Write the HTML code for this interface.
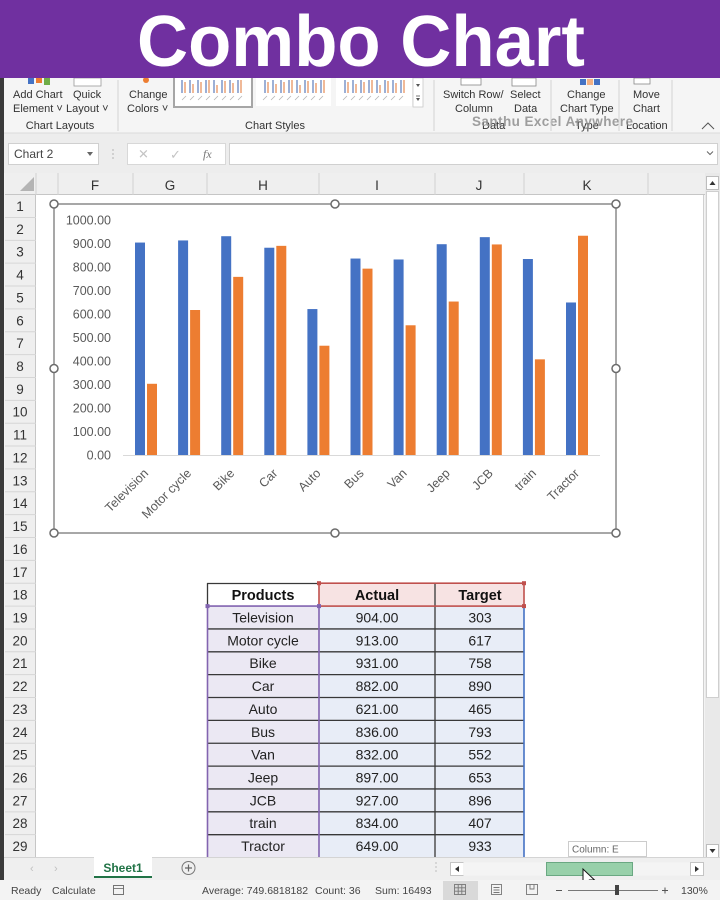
<!DOCTYPE html>
<html>
<head>
<meta charset="utf-8">
<style>
  html,body{margin:0;padding:0;background:#f3f3f3;}
  body{width:720px;height:900px;overflow:hidden;}
  svg{display:block;font-family:"Liberation Sans",Arial,sans-serif;}
</style>
</head>
<body>
<svg width="720" height="900" viewBox="0 0 720 900" xmlns="http://www.w3.org/2000/svg">
  <!-- base -->
  <rect x="0" y="0" width="720" height="900" fill="#f3f3f3"/>

  <!-- ribbon -->
  <rect x="0" y="78" width="720" height="55" fill="#f5f5f5"/>
  <!-- ribbon icons (partially hidden) -->
  <rect x="28" y="78" width="6" height="6" fill="#4472c4"/>
  <rect x="36" y="78" width="6" height="5" fill="#ed7d31"/>
  <rect x="44" y="78" width="6" height="7" fill="#70ad47"/>
  <rect x="74" y="78" width="27" height="8" fill="#fff" stroke="#999" stroke-width="0.8"/>
  <circle cx="146" cy="80" r="3" fill="#ed7d31"/>
  <rect x="461" y="78" width="20" height="7" fill="#fff" stroke="#888" stroke-width="0.8"/>
  <rect x="512" y="78" width="24" height="8" fill="#fff" stroke="#888" stroke-width="0.8"/>
  <rect x="580" y="79" width="6" height="6" fill="#4472c4"/>
  <rect x="587" y="79" width="6" height="6" fill="#f4b183"/>
  <rect x="594" y="79" width="6" height="6" fill="#4472c4"/>
  <rect x="634" y="78" width="16" height="6" fill="#fff" stroke="#888" stroke-width="0.8"/>

  <g font-size="11" fill="#333">
    <text x="13" y="98">Add Chart</text>
    <text x="13" y="112">Element ˅</text>
    <text x="73" y="98">Quick</text>
    <text x="66" y="112">Layout ˅</text>
    <text x="60" y="129" text-anchor="middle">Chart Layouts</text>
    <text x="129" y="98">Change</text>
    <text x="127" y="112">Colors ˅</text>
    <text x="275" y="129" text-anchor="middle">Chart Styles</text>
    <text x="443" y="98">Switch Row/</text>
    <text x="455" y="112">Column</text>
    <text x="510" y="98">Select</text>
    <text x="514" y="112">Data</text>
    <text x="482" y="129">Data</text>
    <text x="567" y="98">Change</text>
    <text x="560" y="112">Chart Type</text>
    <text x="575" y="129">Type</text>
    <text x="633" y="98">Move</text>
    <text x="633" y="112">Chart</text>
    <text x="626" y="129">Location</text>
  </g>
  <text x="472" y="126" font-size="13.5" font-weight="bold" fill="#8f8f8f" opacity="0.85" textLength="161">Santhu Excel Anywhere</text>
  <path d="M702 129 L708 123 L714 129" fill="none" stroke="#555" stroke-width="1"/>
  <!-- ribbon separators -->
  <g stroke="#d4d4d4" stroke-width="1">
    <line x1="118" y1="80" x2="118" y2="131"/>
    <line x1="434" y1="80" x2="434" y2="131"/>
    <line x1="551" y1="80" x2="551" y2="131"/>
    <line x1="619" y1="80" x2="619" y2="131"/>
    <line x1="672" y1="80" x2="672" y2="131"/>
  </g>
  <!-- chart style thumbnails -->
  <rect x="174" y="77" width="78" height="30" fill="#fff" stroke="#a6a6a6" stroke-width="2"/>
  <rect x="256" y="78" width="75" height="28" fill="#fff"/>
  <rect x="336" y="78" width="76" height="28" fill="#fff"/>
  <g stroke-width="2">
    <g stroke="#9db0d6">
      <line x1="182" y1="80" x2="182" y2="93"/><line x1="190" y1="80" x2="190" y2="93"/><line x1="198" y1="80" x2="198" y2="93"/><line x1="206" y1="80" x2="206" y2="93"/><line x1="214" y1="80" x2="214" y2="93"/><line x1="222" y1="80" x2="222" y2="93"/><line x1="230" y1="80" x2="230" y2="93"/><line x1="238" y1="80" x2="238" y2="93"/>
      <line x1="265" y1="80" x2="265" y2="93"/><line x1="273" y1="80" x2="273" y2="93"/><line x1="281" y1="80" x2="281" y2="93"/><line x1="289" y1="80" x2="289" y2="93"/><line x1="297" y1="80" x2="297" y2="93"/><line x1="305" y1="80" x2="305" y2="93"/><line x1="313" y1="80" x2="313" y2="93"/><line x1="321" y1="80" x2="321" y2="93"/>
      <line x1="345" y1="80" x2="345" y2="93"/><line x1="353" y1="80" x2="353" y2="93"/><line x1="361" y1="80" x2="361" y2="93"/><line x1="369" y1="80" x2="369" y2="93"/><line x1="377" y1="80" x2="377" y2="93"/><line x1="385" y1="80" x2="385" y2="93"/><line x1="393" y1="80" x2="393" y2="93"/><line x1="401" y1="80" x2="401" y2="93"/>
    </g>
    <g stroke="#f0b998">
      <line x1="185" y1="82" x2="185" y2="93"/><line x1="193" y1="84" x2="193" y2="93"/><line x1="201" y1="82" x2="201" y2="93"/><line x1="209" y1="80" x2="209" y2="93"/><line x1="217" y1="85" x2="217" y2="93"/><line x1="225" y1="81" x2="225" y2="93"/><line x1="233" y1="83" x2="233" y2="93"/><line x1="241" y1="80" x2="241" y2="93"/>
      <line x1="268" y1="82" x2="268" y2="93"/><line x1="276" y1="84" x2="276" y2="93"/><line x1="284" y1="82" x2="284" y2="93"/><line x1="292" y1="80" x2="292" y2="93"/><line x1="300" y1="85" x2="300" y2="93"/><line x1="308" y1="81" x2="308" y2="93"/><line x1="316" y1="83" x2="316" y2="93"/><line x1="324" y1="80" x2="324" y2="93"/>
      <line x1="348" y1="82" x2="348" y2="93"/><line x1="356" y1="84" x2="356" y2="93"/><line x1="364" y1="82" x2="364" y2="93"/><line x1="372" y1="80" x2="372" y2="93"/><line x1="380" y1="85" x2="380" y2="93"/><line x1="388" y1="81" x2="388" y2="93"/><line x1="396" y1="83" x2="396" y2="93"/><line x1="404" y1="80" x2="404" y2="93"/>
    </g>
  </g>
  <g stroke="#b5b5b5" stroke-width="0.8">
    <line x1="182" y1="100" x2="186" y2="96"/><line x1="190" y1="100" x2="194" y2="96"/><line x1="198" y1="100" x2="202" y2="96"/><line x1="206" y1="100" x2="210" y2="96"/><line x1="214" y1="100" x2="218" y2="96"/><line x1="222" y1="100" x2="226" y2="96"/><line x1="230" y1="100" x2="234" y2="96"/><line x1="238" y1="100" x2="242" y2="96"/>
    <line x1="263" y1="100" x2="267" y2="96"/><line x1="271" y1="100" x2="275" y2="96"/><line x1="279" y1="100" x2="283" y2="96"/><line x1="287" y1="100" x2="291" y2="96"/><line x1="295" y1="100" x2="299" y2="96"/><line x1="303" y1="100" x2="307" y2="96"/><line x1="311" y1="100" x2="315" y2="96"/><line x1="319" y1="100" x2="323" y2="96"/>
    <line x1="343" y1="100" x2="347" y2="96"/><line x1="351" y1="100" x2="355" y2="96"/><line x1="359" y1="100" x2="363" y2="96"/><line x1="367" y1="100" x2="371" y2="96"/><line x1="375" y1="100" x2="379" y2="96"/><line x1="383" y1="100" x2="387" y2="96"/><line x1="391" y1="100" x2="395" y2="96"/><line x1="399" y1="100" x2="403" y2="96"/>
  </g>
  <rect x="413" y="78" width="10" height="29" fill="#fff" stroke="#c8c8c8" stroke-width="0.8"/>
  <path d="M416 84 L420 84 L418 87 Z" fill="#555"/>
  <path d="M416 98 L420 98 L418 101 Z" fill="#555"/>
  <line x1="416" y1="96" x2="420" y2="96" stroke="#555" stroke-width="0.8"/>

  <!-- formula bar area -->
  <rect x="0" y="133" width="720" height="40" fill="#ededed"/>
  <line x1="0" y1="133" x2="720" y2="133" stroke="#dadada"/>
  <rect x="8.5" y="143.5" width="90" height="21" fill="#fff" stroke="#d0d0d0"/>
  <text x="14" y="158" font-size="12" fill="#444">Chart 2</text>
  <path d="M87 152 L93 152 L90 156 Z" fill="#666"/>
  <g fill="#bbb"><circle cx="113" cy="150" r="0.9"/><circle cx="113" cy="154" r="0.9"/><circle cx="113" cy="158" r="0.9"/></g>
  <rect x="127.5" y="143.5" width="98" height="21" fill="#fff" stroke="#d8d8d8"/>
  <text x="138" y="158.5" font-size="13" fill="#c4c4c4">✕</text>
  <text x="170" y="159" font-size="13" fill="#c4c4c4">✓</text>
  <text x="203" y="158" font-size="12" font-style="italic" font-family="Liberation Serif,serif" fill="#777">fx</text>
  <rect x="229.5" y="143.5" width="488" height="21" fill="#fff" stroke="#d0d0d0"/>
  <path d="M707 151.5 L710 154.5 L713 151.5" fill="none" stroke="#666" stroke-width="1"/>

  <!-- column headers -->
  <rect x="5" y="173" width="700" height="22" fill="#efefef"/>
  <line x1="5" y1="194.5" x2="705" y2="194.5" stroke="#c6c6c6"/>
  <path d="M20 191 L34 191 L34 177 Z" fill="#b4b4b4"/>
  <g stroke="#d2d2d2">
    <line x1="36" y1="173" x2="36" y2="195"/>
    <line x1="58" y1="173" x2="58" y2="195"/>
    <line x1="133" y1="173" x2="133" y2="195"/>
    <line x1="207" y1="173" x2="207" y2="195"/>
    <line x1="319" y1="173" x2="319" y2="195"/>
    <line x1="435" y1="173" x2="435" y2="195"/>
    <line x1="524" y1="173" x2="524" y2="195"/>
    <line x1="648" y1="173" x2="648" y2="195"/>
  </g>
  <g font-size="13.5" fill="#333" text-anchor="middle">
    <text x="95" y="190">F</text>
    <text x="170" y="190">G</text>
    <text x="263" y="190">H</text>
    <text x="377" y="190">I</text>
    <text x="479" y="190">J</text>
    <text x="587" y="190">K</text>
  </g>

  <!-- sheet area -->
  <rect x="36" y="195" width="668" height="663" fill="#ffffff"/>
  <line x1="703.5" y1="195" x2="703.5" y2="858" stroke="#d0d0d0"/>
  <!-- left dark edge -->
  <rect x="0" y="78" width="4" height="802" fill="#3a3a3a"/>

  <!-- row headers -->
  <rect x="5" y="195" width="31" height="663" fill="#efefef"/>
  <line x1="35.5" y1="195" x2="35.5" y2="858" stroke="#c6c6c6"/>
  <g stroke="#d6d6d6">
    <line x1="5" y1="217.46" x2="36" y2="217.46"/><line x1="5" y1="240.32" x2="36" y2="240.32"/><line x1="5" y1="263.18" x2="36" y2="263.18"/><line x1="5" y1="286.04" x2="36" y2="286.04"/><line x1="5" y1="308.9" x2="36" y2="308.9"/><line x1="5" y1="331.76" x2="36" y2="331.76"/><line x1="5" y1="354.62" x2="36" y2="354.62"/><line x1="5" y1="377.48" x2="36" y2="377.48"/><line x1="5" y1="400.34" x2="36" y2="400.34"/><line x1="5" y1="423.2" x2="36" y2="423.2"/><line x1="5" y1="446.06" x2="36" y2="446.06"/><line x1="5" y1="468.92" x2="36" y2="468.92"/><line x1="5" y1="491.78" x2="36" y2="491.78"/><line x1="5" y1="514.64" x2="36" y2="514.64"/><line x1="5" y1="537.5" x2="36" y2="537.5"/><line x1="5" y1="560.36" x2="36" y2="560.36"/><line x1="5" y1="583.22" x2="36" y2="583.22"/><line x1="5" y1="606.08" x2="36" y2="606.08"/><line x1="5" y1="628.94" x2="36" y2="628.94"/><line x1="5" y1="651.8" x2="36" y2="651.8"/><line x1="5" y1="674.66" x2="36" y2="674.66"/><line x1="5" y1="697.52" x2="36" y2="697.52"/><line x1="5" y1="720.38" x2="36" y2="720.38"/><line x1="5" y1="743.24" x2="36" y2="743.24"/><line x1="5" y1="766.1" x2="36" y2="766.1"/><line x1="5" y1="788.96" x2="36" y2="788.96"/><line x1="5" y1="811.82" x2="36" y2="811.82"/><line x1="5" y1="834.68" x2="36" y2="834.68"/>
  </g>
  <g font-size="13.5" fill="#333" text-anchor="middle">
    <text x="20" y="211">1</text><text x="20" y="233.9">2</text><text x="20" y="256.7">3</text><text x="20" y="279.6">4</text><text x="20" y="302.4">5</text><text x="20" y="325.3">6</text><text x="20" y="348.2">7</text><text x="20" y="371">8</text><text x="20" y="393.9">9</text><text x="20" y="416.7">10</text><text x="20" y="439.6">11</text><text x="20" y="462.5">12</text><text x="20" y="485.3">13</text><text x="20" y="508.2">14</text><text x="20" y="531">15</text><text x="20" y="553.9">16</text><text x="20" y="576.8">17</text><text x="20" y="599.6">18</text><text x="20" y="622.5">19</text><text x="20" y="645.3">20</text><text x="20" y="668.2">21</text><text x="20" y="691.1">22</text><text x="20" y="713.9">23</text><text x="20" y="736.8">24</text><text x="20" y="759.6">25</text><text x="20" y="782.5">26</text><text x="20" y="805.4">27</text><text x="20" y="828.2">28</text><text x="20" y="851.1">29</text>
  </g>

  <!-- vertical scrollbar -->
  <rect x="705" y="173" width="15" height="685" fill="#e9e9e9"/>
  <rect x="706.5" y="176.5" width="12" height="13" fill="#fff" stroke="#bdbdbd"/>
  <path d="M709.5 185 L715.5 185 L712.5 181 Z" fill="#333"/>
  <rect x="706.5" y="191.5" width="12" height="506" fill="#fff" stroke="#cfcfcf"/>
  <rect x="706.5" y="844.5" width="12" height="13" fill="#fff" stroke="#bdbdbd"/>
  <path d="M709.5 849 L715.5 849 L712.5 853 Z" fill="#333"/>

  <!-- CHART -->
  <rect x="54" y="204" width="562" height="329" fill="#ffffff" stroke="#8a8a8a" stroke-width="1.5"/>
  <!-- y axis labels -->
  <g font-size="12.5" fill="#595959" text-anchor="end">
    <text x="111" y="224.5">1000.00</text>
    <text x="111" y="248">900.00</text>
    <text x="111" y="271.5">800.00</text>
    <text x="111" y="295">700.00</text>
    <text x="111" y="318.5">600.00</text>
    <text x="111" y="342">500.00</text>
    <text x="111" y="365.5">400.00</text>
    <text x="111" y="389">300.00</text>
    <text x="111" y="412.5">200.00</text>
    <text x="111" y="436">100.00</text>
    <text x="111" y="459.5">0.00</text>
  </g>
  <line x1="123" y1="455.5" x2="600" y2="455.5" stroke="#d9d9d9" stroke-width="1"/>
  <!-- Actual bars -->
  <g fill="#4472c4">
    <rect x="135" y="242.56" width="10" height="212.44"/>
    <rect x="178.1" y="240.44" width="10" height="214.56"/>
    <rect x="221.2" y="236.21" width="10" height="218.79"/>
    <rect x="264.3" y="247.73" width="10" height="207.27"/>
    <rect x="307.4" y="309.06" width="10" height="145.94"/>
    <rect x="350.5" y="258.54" width="10" height="196.46"/>
    <rect x="393.6" y="259.48" width="10" height="195.52"/>
    <rect x="436.7" y="244.2" width="10" height="210.8"/>
    <rect x="479.8" y="237.15" width="10" height="217.85"/>
    <rect x="522.9" y="259.01" width="10" height="195.99"/>
    <rect x="566" y="302.48" width="10" height="152.52"/>
  </g>
  <!-- Target bars -->
  <g fill="#ed7d31">
    <rect x="147" y="383.79" width="10" height="71.21"/>
    <rect x="190.1" y="310" width="10" height="145"/>
    <rect x="233.2" y="276.87" width="10" height="178.13"/>
    <rect x="276.3" y="245.85" width="10" height="209.15"/>
    <rect x="319.4" y="345.72" width="10" height="109.28"/>
    <rect x="362.5" y="268.64" width="10" height="186.36"/>
    <rect x="405.6" y="325.28" width="10" height="129.72"/>
    <rect x="448.7" y="301.54" width="10" height="153.46"/>
    <rect x="491.8" y="244.44" width="10" height="210.56"/>
    <rect x="534.9" y="359.35" width="10" height="95.65"/>
    <rect x="578" y="235.74" width="10" height="219.26"/>
  </g>
  <!-- x labels -->
  <g font-size="12.5" fill="#595959" text-anchor="end">
    <text transform="translate(149,474) rotate(-45)">Television</text>
    <text transform="translate(192.1,474) rotate(-45)">Motor cycle</text>
    <text transform="translate(235.2,474) rotate(-45)">Bike</text>
    <text transform="translate(278.3,474) rotate(-45)">Car</text>
    <text transform="translate(321.4,474) rotate(-45)">Auto</text>
    <text transform="translate(364.5,474) rotate(-45)">Bus</text>
    <text transform="translate(407.6,474) rotate(-45)">Van</text>
    <text transform="translate(450.7,474) rotate(-45)">Jeep</text>
    <text transform="translate(493.8,474) rotate(-45)">JCB</text>
    <text transform="translate(536.9,474) rotate(-45)">train</text>
    <text transform="translate(580,474) rotate(-45)">Tractor</text>
  </g>
  <!-- handles -->
  <g fill="#ffffff" stroke="#6b6b6b" stroke-width="1.5">
    <circle cx="54" cy="204" r="4"/>
    <circle cx="335" cy="204" r="4"/>
    <circle cx="616" cy="204" r="4"/>
    <circle cx="54" cy="368.5" r="4"/>
    <circle cx="616" cy="368.5" r="4"/>
    <circle cx="54" cy="533" r="4"/>
    <circle cx="335" cy="533" r="4"/>
    <circle cx="616" cy="533" r="4"/>
  </g>

  <!-- TABLE -->
  <rect x="207" y="583.2" width="112" height="22.9" fill="#ffffff"/>
  <rect x="319" y="583.2" width="205" height="22.9" fill="#f7e3e3"/>
  <rect x="207" y="606.1" width="112" height="251.5" fill="#ebe8f3"/>
  <rect x="319" y="606.1" width="205" height="251.5" fill="#e8edf7"/>
  <g stroke="#383838" stroke-width="1.3">
    <line x1="207" y1="628.94" x2="524" y2="628.94"/>
    <line x1="207" y1="651.8" x2="524" y2="651.8"/>
    <line x1="207" y1="674.66" x2="524" y2="674.66"/>
    <line x1="207" y1="697.52" x2="524" y2="697.52"/>
    <line x1="207" y1="720.38" x2="524" y2="720.38"/>
    <line x1="207" y1="743.24" x2="524" y2="743.24"/>
    <line x1="207" y1="766.1" x2="524" y2="766.1"/>
    <line x1="207" y1="788.96" x2="524" y2="788.96"/>
    <line x1="207" y1="811.82" x2="524" y2="811.82"/>
    <line x1="207" y1="834.68" x2="524" y2="834.68"/>
    <line x1="435" y1="583.2" x2="435" y2="858"/>
    <line x1="207" y1="583.5" x2="319" y2="583.5"/>
    <line x1="207.5" y1="583.2" x2="207.5" y2="606"/>
  </g>
  <g stroke="#8264b0" stroke-width="1.6">
    <line x1="207.5" y1="606" x2="207.5" y2="858"/>
    <line x1="319" y1="606" x2="319" y2="858"/>
    <line x1="207" y1="606.1" x2="319" y2="606.1"/>
  </g>
  <line x1="524" y1="606" x2="524" y2="858" stroke="#4472c4" stroke-width="1.6"/>
  <g stroke="#c0504d" stroke-width="1.6" fill="none">
    <rect x="319" y="583.2" width="205" height="22.9"/>
  </g>
  <g fill="#c0504d">
    <rect x="317" y="581.2" width="4" height="4"/>
    <rect x="522" y="581.2" width="4" height="4"/>
    <rect x="522" y="604.1" width="4" height="4"/>
  </g>
  <rect x="317" y="604.1" width="4" height="4" fill="#8264b0"/>
  <rect x="205.5" y="604.1" width="4" height="4" fill="#8264b0"/>
  <g font-size="14.5" font-weight="bold" fill="#111" text-anchor="middle">
    <text x="263" y="600">Products</text>
    <text x="377" y="600">Actual</text>
    <text x="480" y="600">Target</text>
  </g>
  <g font-size="14" fill="#222" text-anchor="middle">
    <text x="263" y="622.5">Television</text><text x="377" y="622.5">904.00</text><text x="480" y="622.5">303</text>
    <text x="263" y="645.4">Motor cycle</text><text x="377" y="645.4">913.00</text><text x="480" y="645.4">617</text>
    <text x="263" y="668.2">Bike</text><text x="377" y="668.2">931.00</text><text x="480" y="668.2">758</text>
    <text x="263" y="691.1">Car</text><text x="377" y="691.1">882.00</text><text x="480" y="691.1">890</text>
    <text x="263" y="713.9">Auto</text><text x="377" y="713.9">621.00</text><text x="480" y="713.9">465</text>
    <text x="263" y="736.8">Bus</text><text x="377" y="736.8">836.00</text><text x="480" y="736.8">793</text>
    <text x="263" y="759.6">Van</text><text x="377" y="759.6">832.00</text><text x="480" y="759.6">552</text>
    <text x="263" y="782.5">Jeep</text><text x="377" y="782.5">897.00</text><text x="480" y="782.5">653</text>
    <text x="263" y="805.4">JCB</text><text x="377" y="805.4">927.00</text><text x="480" y="805.4">896</text>
    <text x="263" y="828.2">train</text><text x="377" y="828.2">834.00</text><text x="480" y="828.2">407</text>
    <text x="263" y="851.1">Tractor</text><text x="377" y="851.1">649.00</text><text x="480" y="851.1">933</text>
  </g>

  <!-- tab bar -->
  <rect x="4" y="857.5" width="716" height="22.5" fill="#efefef"/>
  <line x1="4" y1="857.5" x2="720" y2="857.5" stroke="#d4d4d4"/>
  <text x="30" y="872" font-size="11" fill="#c0c0c0">‹</text>
  <text x="54" y="872" font-size="11" fill="#c0c0c0">›</text>
  <rect x="94" y="857" width="58" height="21" fill="#ffffff"/>
  <line x1="94" y1="877" x2="152" y2="877" stroke="#217346" stroke-width="2"/>
  <text x="123" y="872" font-size="12" font-weight="bold" fill="#217346" text-anchor="middle">Sheet1</text>
  <circle cx="188.5" cy="868" r="6.5" fill="none" stroke="#777" stroke-width="1"/>
  <path d="M185 868 H192 M188.5 864.5 V871.5" stroke="#666" stroke-width="1.2"/>
  <g fill="#c4c4c4"><circle cx="436" cy="863" r="0.9"/><circle cx="436" cy="867" r="0.9"/><circle cx="436" cy="871" r="0.9"/></g>
  <rect x="450.5" y="862.5" width="13" height="13" fill="#fff" stroke="#c4c4c4"/>
  <path d="M459 866 L459 872 L455 869 Z" fill="#333"/>
  <rect x="463" y="862.5" width="227" height="13" fill="#f4f4f4"/>
  <rect x="690.5" y="862.5" width="13" height="13" fill="#fff" stroke="#c4c4c4"/>
  <path d="M695 866 L695 872 L699 869 Z" fill="#333"/>
  <rect x="546.5" y="862.5" width="86" height="13" fill="#98d0aa" stroke="#6aa882"/>
  <!-- tooltip -->
  <rect x="568.5" y="841.5" width="78" height="15" fill="#ffffff" stroke="#cccccc"/>
  <text x="572" y="852.5" font-size="10" fill="#666">Column: E</text>
  <!-- cursor -->
  <path d="M583 869 L583 885 L587 881 L590 887 L592.5 886 L589.5 880 L594.5 880 Z" fill="#ffffff" stroke="#111" stroke-width="1"/>

  <!-- status bar -->
  <rect x="4" y="880" width="716" height="20" fill="#f3f3f3"/>
  <g font-size="10.5" fill="#444">
    <text x="11" y="894">Ready</text>
    <text x="52" y="894">Calculate</text>
    <text x="202" y="894">Average: 749.6818182</text>
    <text x="315" y="894">Count: 36</text>
    <text x="375" y="894">Sum: 16493</text>
    <text x="681" y="894">130%</text>
  </g>
  <rect x="113.5" y="885.5" width="10" height="9" fill="none" stroke="#666" stroke-width="0.9"/>
  <line x1="113.5" y1="888.5" x2="123.5" y2="888.5" stroke="#666" stroke-width="0.8"/>
  <rect x="443" y="881" width="35" height="19" fill="#d9d9d9"/>
  <g fill="none" stroke="#777" stroke-width="0.9">
    <rect x="454.5" y="884.5" width="11" height="10"/>
    <path d="M454.5 887.8 H465.5 M454.5 891.2 H465.5 M458.2 884.5 V894.5 M461.8 884.5 V894.5"/>
    <rect x="491.5" y="884.5" width="10" height="10"/>
    <path d="M493.5 887.5 H499.5 M493.5 890 H499.5 M493.5 892.5 H499.5"/>
    <rect x="526.5" y="884.5" width="11" height="10"/>
    <path d="M530 884.5 V889 H534 V884.5"/>
  </g>
  <line x1="556" y1="890.5" x2="562" y2="890.5" stroke="#555"/>
  <line x1="568" y1="890.5" x2="658" y2="890.5" stroke="#777"/>
  <rect x="615" y="885" width="4" height="10" fill="#444"/>
  <path d="M662 890.5 H668 M665 887.5 V893.5" stroke="#555"/>

  <!-- title banner -->
  <rect x="0" y="0" width="720" height="78" fill="#7030a0"/>
  <text x="361" y="66" font-size="72" font-weight="bold" fill="#ffffff" text-anchor="middle" textLength="448" lengthAdjust="spacingAndGlyphs">Combo Chart</text>
</svg>
</body>
</html>
